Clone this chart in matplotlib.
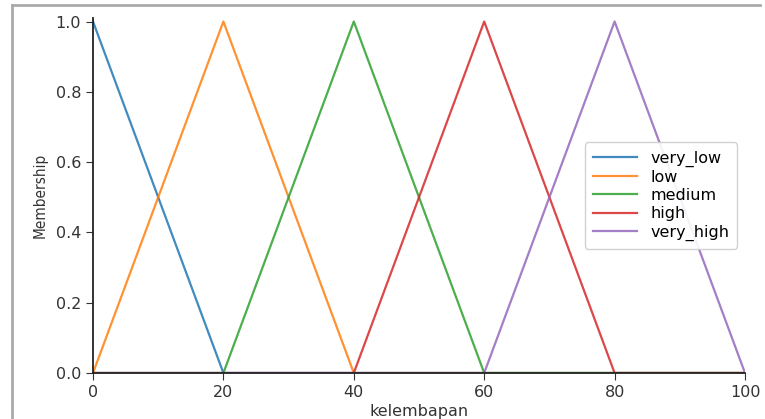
import matplotlib
matplotlib.use("Agg")
import matplotlib.pyplot as plt
from matplotlib.lines import Line2D

labels = ["very_low", "low", "medium", "high", "very_high"]
xs = [
    [0, 0, 20, 100],
    [0, 20, 40, 100],
    [0, 20, 40, 60, 100],
    [0, 40, 60, 80, 100],
    [0, 60, 80, 100],
]
ys = [
    [1, 1, 0, 0],
    [0, 1, 0, 0],
    [0, 0, 1, 0, 0],
    [0, 0, 1, 0, 0],
    [0, 0, 1, 0],
]
colors = ["#1f77b4", "#ff7f0e", "#2ca02c", "#d62728", "#9467bd"]
xticks = [0, 20, 40, 60, 80, 100]
yticks = [0.0, 0.2, 0.4, 0.6, 0.8, 1.0]

fig = plt.figure(figsize=(7.65, 4.19), dpi=100)
ax = fig.add_axes([93/765, 1-373/419, (745-93)/765, (373-18)/419])

for x, y, c, l in zip(xs, ys, colors, labels):
    ax.plot(x, y, color=c, lw=1.6, alpha=0.85, label=l)

ax.set_xlim(0, 100)
ax.set_ylim(0, 1.01)
ax.set_xticks(xticks)
ax.set_yticks(yticks)
ax.set_yticklabels([f"{v:.1f}" for v in yticks])
ax.tick_params(labelsize=11.5, colors="#333333", length=5)
ax.spines["top"].set_visible(False)
ax.spines["right"].set_visible(False)
for s in ("left", "bottom"):
    ax.spines[s].set_color("#222222")
    ax.spines[s].set_linewidth(1.3)
ax.set_xlabel("kelembapan", fontsize=11.5, color="#333333", labelpad=3)
ax.set_ylabel("Membership", fontsize=11, color="#333333", fontstretch="condensed", labelpad=6)
ax.legend(fontsize=11.5, loc="center right", bbox_to_anchor=(1.0, 0.50),
          labelspacing=0.2, handlelength=2.8, borderpad=0.5, framealpha=0.9)

# screenshot frame
fig.add_artist(Line2D([12/765, 12/765], [0, 1-5/419], transform=fig.transFigure, color="#aaaaaa", lw=2))
fig.add_artist(Line2D([12/765, 760/765], [1-5/419, 1-5/419], transform=fig.transFigure, color="#aaaaaa", lw=2))

fig.savefig("out.png", dpi=100)
